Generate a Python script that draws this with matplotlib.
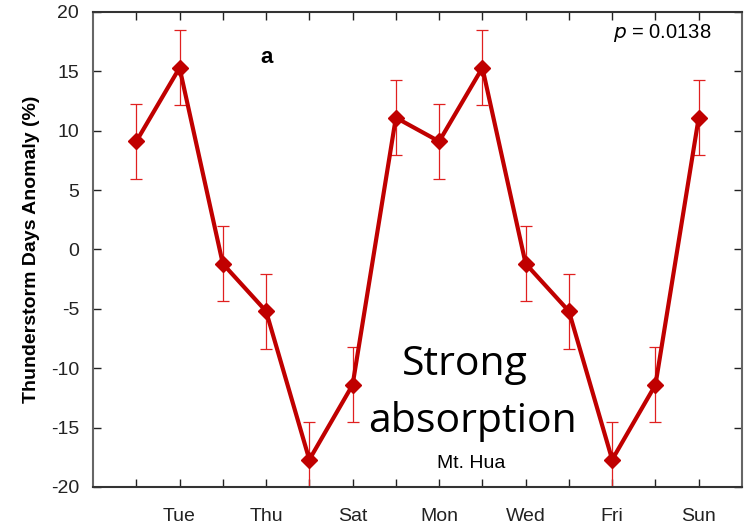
import matplotlib.pyplot as plt

# weekly cycle shown twice (positions 1..14)
positions = list(range(1, 15))
anomaly = [9.1, 15.3, -1.2, -5.2, -17.7, -11.4, 11.1,
           9.1, 15.3, -1.2, -5.2, -17.7, -11.4, 11.1]
err = [3.15] * 14

tick_pos = [2, 4, 6, 8, 10, 12, 14]
tick_labels = ['Tue', 'Thu', 'Sat', 'Mon', 'Wed', 'Fri', 'Sun']
y_ticks = [-20, -15, -10, -5, 0, 5, 10, 15, 20]

plt.rcParams['font.family'] = ['Liberation Sans', 'DejaVu Sans']
plt.rcParams['axes.unicode_minus'] = False

fig = plt.figure(figsize=(7.46, 5.28), dpi=100)
ax = fig.add_axes([0.1247, 0.0777, 0.8699, 0.8996])

ax.errorbar(positions, anomaly, yerr=err, fmt='none', ecolor='#e02020',
            elinewidth=0.9, capsize=4, capthick=0.9, zorder=2)
ax.plot(positions, anomaly, color='#c00000', lw=3, marker='D', ms=8,
        mec='#c00000', mfc='#c00000', zorder=3)

ax.set_xlim(0, 15)
ax.set_ylim(-20, 20)
ax.set_yticks(y_ticks)
ax.set_xticks(positions, minor=True)
ax.set_xticks(tick_pos)
ax.set_xticklabels(tick_labels)
ax.tick_params(axis='both', which='both', direction='in', top=True, right=True,
               length=6, width=1, labelsize=14, colors='#222222')
ax.tick_params(axis='x', which='major', pad=15)
ax.tick_params(axis='y', which='major', pad=10)
for side in ['left', 'right', 'top', 'bottom']:
    ax.spines[side].set_linewidth(1.5)
ax.spines['left'].set_color('#666666')
ax.spines['right'].set_color('#666666')
ax.spines['top'].set_color('#333333')
ax.spines['bottom'].set_color('#333333')

ax.set_ylabel('Thunderstorm Days Anomaly (%)', fontsize=14,
              fontweight='bold', labelpad=8)

ax.text(4.02, 16.2, 'a', fontsize=16, fontweight='bold', ha='center', va='center')
ax.text(14.3, 17.8, r'$p$ = 0.0138', fontsize=14.5, ha='right', va='baseline')
ax.text(8.6, -10.57, 'Strong', family='Open Sans', fontsize=29.5,
        ha='center', va='baseline')
ax.text(8.78, -15.37, 'absorption', family='Open Sans', fontsize=29.5,
        ha='center', va='baseline')
ax.text(8.74, -18.4, 'Mt. Hua', fontsize=14, ha='center', va='baseline')

fig.savefig('out.png', dpi=100)
